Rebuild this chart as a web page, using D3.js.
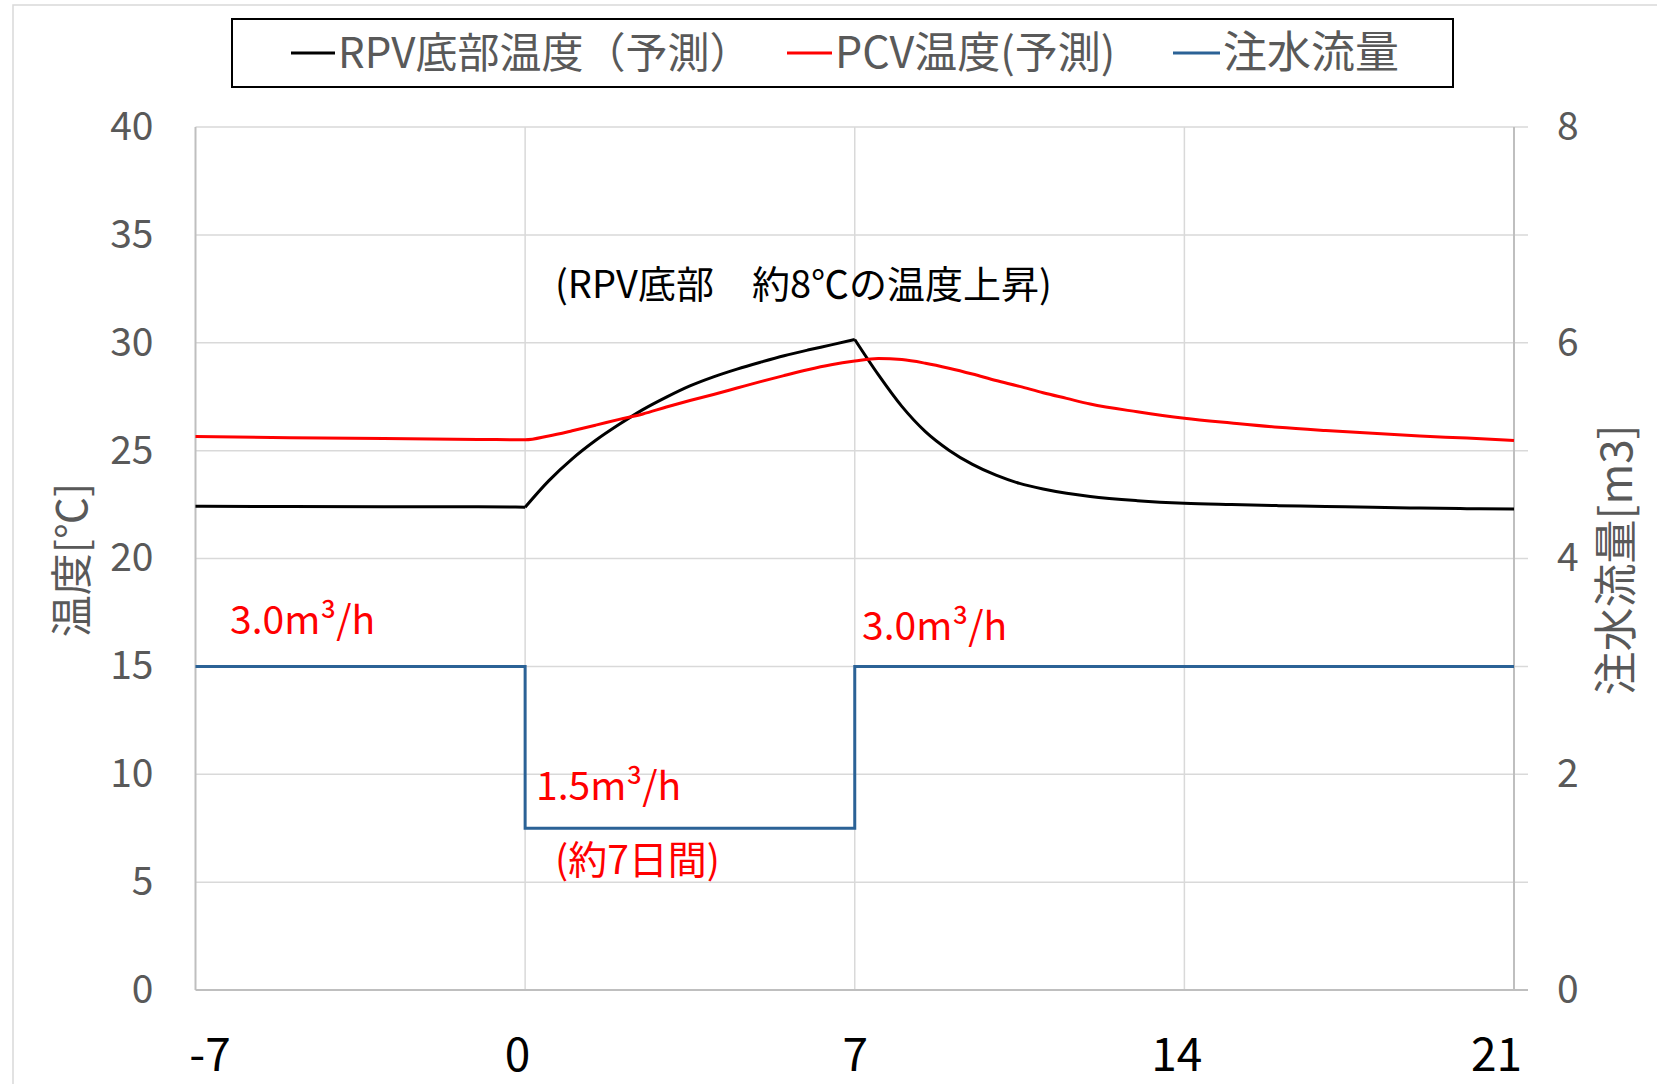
<!DOCTYPE html>
<html><head><meta charset="utf-8">
<script src="https://cdn.jsdelivr.net/npm/d3@7"></script>
<style>
body{margin:0;background:#fff;}
svg text{font-family:"Noto Sans CJK JP","Noto Sans",sans-serif;}
</style></head>
<body><svg id="c" width="1657" height="1084"></svg>
<script>
const days = [-7,-5,-3,-1,0,0.5,1,1.5,2,2.5,3,3.5,4,4.5,5,5.5,6,6.5,7,7.5,8,8.5,9,9.5,10,10.5,11,11.5,12,13,14,15,16,17,18,19,20,21];
const rpvTemp = [22.42,22.41,22.40,22.40,22.38,23.6,24.62,25.48,26.22,26.9,27.48,28.0,28.42,28.78,29.1,29.4,29.66,29.9,30.15,28.52,27.05,25.88,25.02,24.36,23.86,23.48,23.22,23.02,22.87,22.68,22.56,22.5,22.45,22.41,22.37,22.34,22.31,22.29];
const pcvTemp = [25.65,25.6,25.56,25.52,25.5,25.68,25.92,26.18,26.45,26.7,27.02,27.32,27.6,27.9,28.2,28.48,28.75,28.98,29.15,29.27,29.22,29.05,28.82,28.55,28.25,27.98,27.68,27.42,27.16,26.8,26.5,26.28,26.08,25.93,25.8,25.68,25.58,25.47];
const rpvBreaks = [0,7];
const flowDays = [-7,0,0,7,7,21];
const flowRate = [3,3,1.5,1.5,3,3];
const xTicks = [-7,0,7,14,21];
const yLeftTicks = [0,5,10,15,20,25,30,35,40];
const yRightTicks = [0,2,4,6,8];
const seriesNames = ["RPV底部温度（予測）","PCV温度(予測)","注水流量"];
const seriesColors = ["#000000","#ff0000","#2b6296"];

const svg = d3.select("#c");
const L=195.5, R=1514, T=127, B=990;
const x = d3.scaleLinear().domain([-7,21]).range([L,R]);
const yL = d3.scaleLinear().domain([0,40]).range([B,T]);
const yR = d3.scaleLinear().domain([0,8]).range([B,T]);

// outer frame
svg.append("rect").attr("x",13).attr("y",5).attr("width",1700).attr("height",1200)
  .attr("fill","none").attr("stroke","#d9d9d9").attr("stroke-width",1.5);

// gridlines
const g = svg.append("g");
g.selectAll(".hg").data(yLeftTicks.filter(d=>d>0)).join("line")
  .attr("x1",L).attr("x2",R+14).attr("y1",d=>yL(d)).attr("y2",d=>yL(d))
  .attr("stroke","#d9d9d9").attr("stroke-width",1.5);
g.selectAll(".vg").data(xTicks.filter(d=>d>-7 && d<21)).join("line")
  .attr("x1",d=>x(d)).attr("x2",d=>x(d)).attr("y1",T).attr("y2",B)
  .attr("stroke","#d9d9d9").attr("stroke-width",1.5);

// axes lines
svg.append("line").attr("x1",L).attr("x2",L).attr("y1",T).attr("y2",B).attr("stroke","#bfbfbf").attr("stroke-width",2);
svg.append("line").attr("x1",R).attr("x2",R).attr("y1",T).attr("y2",B).attr("stroke","#bfbfbf").attr("stroke-width",2);
svg.append("line").attr("x1",L).attr("x2",R+14).attr("y1",B).attr("y2",B).attr("stroke","#bfbfbf").attr("stroke-width",2);

// left axis
const axL = d3.axisLeft(yL).tickValues(yLeftTicks).tickSize(0).tickPadding(42);
svg.append("g").attr("transform",`translate(${L},0)`).call(axL)
  .call(s=>s.select(".domain").remove())
  .selectAll("text").attr("font-size",39).attr("fill","#595959");
// right axis
const axR = d3.axisRight(yR).tickValues(yRightTicks).tickSize(0).tickPadding(43);
svg.append("g").attr("transform",`translate(${R},0)`).call(axR)
  .call(s=>s.select(".domain").remove())
  .selectAll("text").attr("font-size",39).attr("fill","#595959");
// bottom axis
const axB = d3.axisBottom(x).tickValues(xTicks).tickSize(0).tickPadding(48).tickFormat(d=>String(d));
svg.append("g").attr("transform",`translate(0,${B})`).call(axB)
  .call(s=>s.select(".domain").remove())
  .selectAll("text").attr("font-size",46).attr("fill","#000")
  .attr("dx",(d,i)=> i===0 ? 14 : (i===xTicks.length-1 ? -18 : (d===7 ? 0 : -8)));

// axis titles
svg.append("text").attr("transform","translate(72,560) rotate(-90)").attr("text-anchor","middle")
  .attr("dy","0.35em").attr("font-size",42).attr("fill","#595959").text("温度[℃]");
svg.append("text").attr("transform","translate(1617,560) rotate(-90)").attr("text-anchor","middle")
  .attr("dy","0.35em").attr("font-size",44).attr("fill","#595959").text("注水流量[m3]");

// lines
const lineL = d3.line().x(d=>x(d[0])).y(d=>yL(d[1])).curve(d3.curveMonotoneX);
// RPV drawn as piecewise smooth segments (sharp corners at the flow changes)
const rpvPts = days.map((d,i)=>[d,rpvTemp[i]]);
const bounds = [-Infinity, ...rpvBreaks, Infinity];
const rpvD = bounds.slice(0,-1).map((b,k)=>{
  const lo=b, hi=bounds[k+1];
  return lineL(rpvPts.filter(p=>p[0]>=lo && p[0]<=hi));
}).join("");
svg.append("path").attr("d",rpvD)
  .attr("fill","none").attr("stroke",seriesColors[0]).attr("stroke-width",3).attr("stroke-linejoin","round");
svg.append("path").datum(days.map((d,i)=>[d,pcvTemp[i]])).attr("d",lineL)
  .attr("fill","none").attr("stroke",seriesColors[1]).attr("stroke-width",3);
const lineR = d3.line().x(d=>x(d[0])).y(d=>yR(d[1]));
svg.append("path").datum(flowDays.map((d,i)=>[d,flowRate[i]])).attr("d",lineR)
  .attr("fill","none").attr("stroke",seriesColors[2]).attr("stroke-width",3);

// annotations
const ann = [
  {t:"(RPV底部　約8℃の温度上昇)", x:555, y:298, c:"#000", s:38},
  {t:"3.0m³/h", x:230, y:634, c:"#ff0000", s:39},
  {t:"3.0m³/h", x:862, y:640, c:"#ff0000", s:39},
  {t:"1.5m³/h", x:536, y:800, c:"#ff0000", s:39},
  {t:"(約7日間)", x:555, y:874, c:"#ff0000", s:39}
];
svg.selectAll(".ann").data(ann).join("text").attr("x",d=>d.x).attr("y",d=>d.y)
  .attr("font-size",d=>d.s).attr("fill",d=>d.c).text(d=>d.t);

// legend
svg.append("rect").attr("x",232).attr("y",19).attr("width",1221).attr("height",68)
  .attr("fill","#fff").attr("stroke","#000").attr("stroke-width",2);
const legX = [[291,338],[787,835],[1173,1223]];
const legSize = [42,43,44];
seriesNames.forEach((n,i)=>{
  svg.append("line").attr("x1",legX[i][0]).attr("x2",legX[i][1]-3).attr("y1",53).attr("y2",53)
    .attr("stroke",seriesColors[i]).attr("stroke-width",3);
  svg.append("text").attr("x",legX[i][1]).attr("y",53).attr("dy","0.35em")
    .attr("font-size",legSize[i]).attr("fill","#595959").text(n);
});
</script></body></html>
